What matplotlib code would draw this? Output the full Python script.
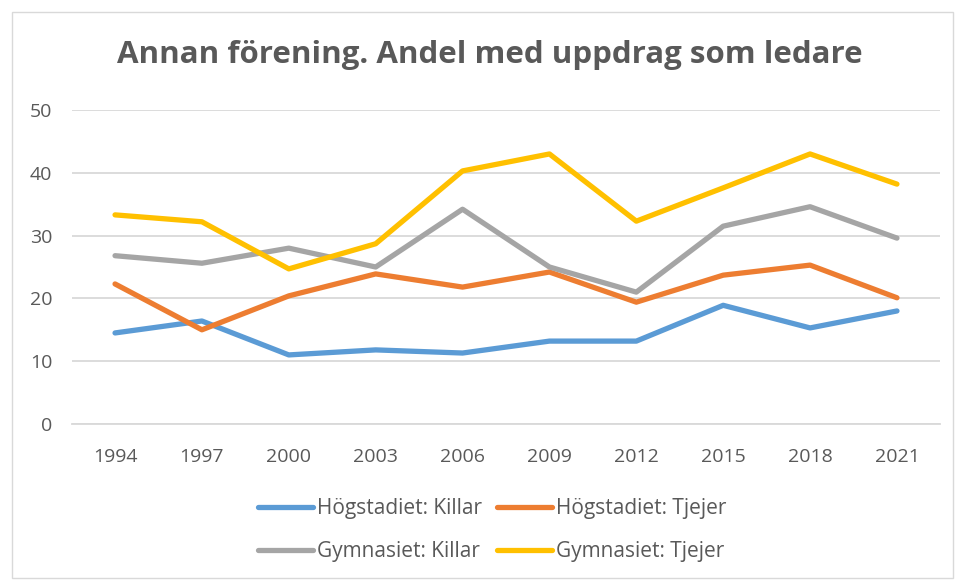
import matplotlib
matplotlib.use("Agg")
import matplotlib.pyplot as plt
from matplotlib.patches import Rectangle

years = ["1994", "1997", "2000", "2003", "2006", "2009", "2012", "2015", "2018", "2021"]
hog_killar = [14.5, 16.4, 11.0, 11.8, 11.3, 13.2, 13.2, 18.9, 15.3, 18.0]
hog_tjejer = [22.3, 15.0, 20.4, 23.9, 21.8, 24.2, 19.4, 23.7, 25.3, 20.1]
gym_killar = [26.8, 25.6, 28.0, 25.0, 34.2, 25.0, 21.0, 31.5, 34.6, 29.6]
gym_tjejer = [33.3, 32.2, 24.7, 28.7, 40.3, 43.0, 32.3, 37.6, 43.0, 38.2]

series = [
    ("Högstadiet: Killar", hog_killar, "#5B9BD5"),
    ("Högstadiet: Tjejer", hog_tjejer, "#ED7D31"),
    ("Gymnasiet: Killar", gym_killar, "#A5A5A5"),
    ("Gymnasiet: Tjejer", gym_tjejer, "#FFC000"),
]

plt.rcParams['font.family'] = ['Open Sans', 'DejaVu Sans']
W, H = 957, 580
fig = plt.figure(figsize=(W / 100, H / 100), dpi=100)
ax = fig.add_axes([71.6 / W, 1 - 424 / H, (940.4 - 71.6) / W, (424 - 110) / H])

x = list(range(len(years)))
lines = []
for label, vals, color in series:
    ln, = ax.plot(x, vals, color=color, lw=3.8, label=label, solid_capstyle='round', solid_joinstyle='round')
    lines.append(ln)

ax.set_xlim(-0.5, len(years) - 0.5)
ax.set_ylim(0, 50)
ax.set_yticks([0, 10, 20, 30, 40, 50])
ax.set_xticks(x)
ax.set_xticklabels(years)
ax.grid(axis='y', color='#D9D9D9', lw=1.3)
ax.set_axisbelow(True)
for s in ['top', 'right', 'left']:
    ax.spines[s].set_visible(False)
ax.spines['bottom'].set_color('#D9D9D9')
ax.spines['bottom'].set_linewidth(1.3)
ax.tick_params(axis='both', length=0, labelsize=14, colors='#595959')
ax.tick_params(axis='x', pad=17)
ax.tick_params(axis='y', pad=14)

fig.text(490 / W, 1 - 55 / H, "Annan förening. Andel med uppdrag som ledare",
         ha='center', va='center', fontsize=22.5, fontweight='bold', color='#595959')

order = [0, 2, 1, 3]
leg = fig.legend([lines[i] for i in order], [series[i][0] for i in order],
                 loc='center', bbox_to_anchor=(492 / W, 1 - 530 / H), ncol=2, frameon=False,
                 fontsize=15, labelcolor='#595959', handlelength=2.65, handletextpad=0.2,
                 columnspacing=0.7, labelspacing=1.05)

fig.patches.append(Rectangle((12 / W, 2 / H), (953 - 12) / W, (578 - 12) / H,
                             transform=fig.transFigure, fill=False, edgecolor='#D9D9D9', lw=1))

fig.savefig("out.png", dpi=100)
